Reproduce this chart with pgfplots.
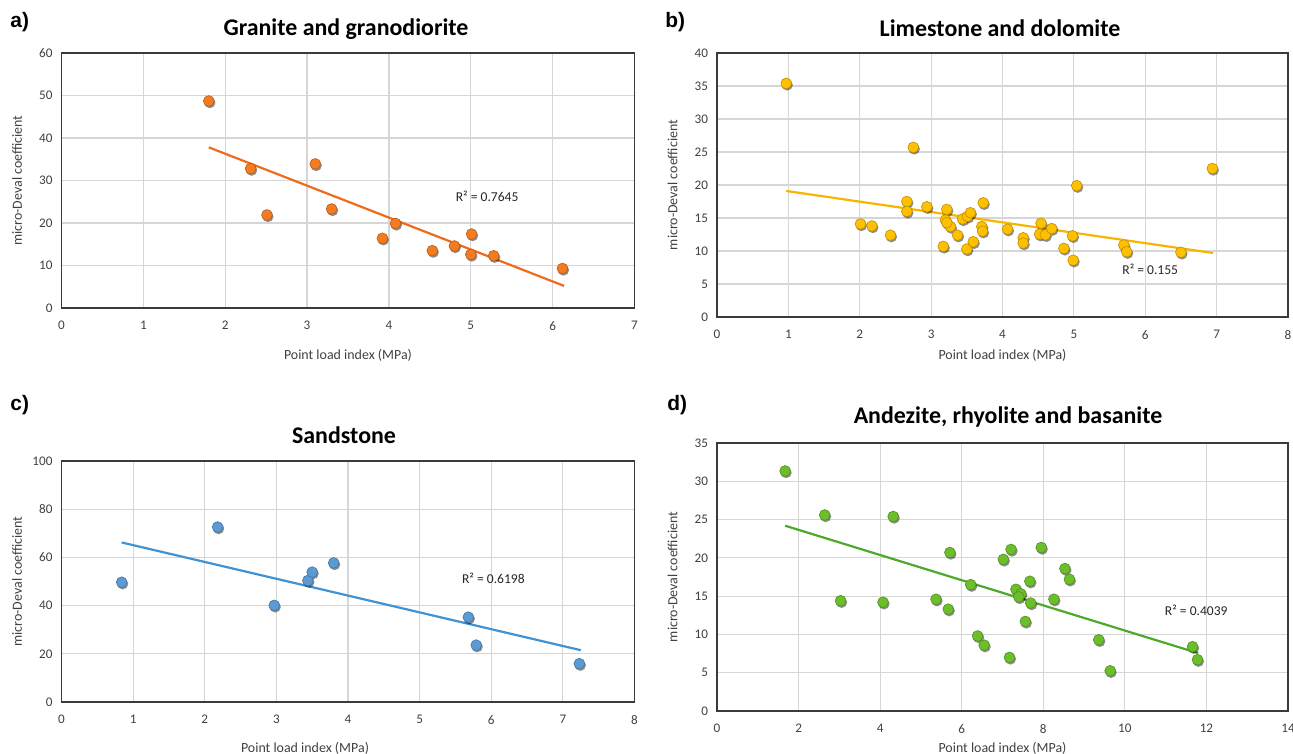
\documentclass[border=0pt]{standalone}
\usepackage{pgfplots}
\pgfplotsset{compat=1.18}
\usepackage{fontspec}
\setmainfont{Carlito}
\newfontfamily\panelfont{Liberation Sans}

\definecolor{axisc}{HTML}{3A3A3A}
\definecolor{gridc}{HTML}{D6D6D6}
\definecolor{tickc}{HTML}{404040}
\definecolor{orgfill}{HTML}{F47B20}
\definecolor{orgline}{HTML}{EE6A1C}
\definecolor{golfill}{HTML}{FFC000}
\definecolor{golline}{HTML}{F7B500}
\definecolor{blufill}{HTML}{5B9BD5}
\definecolor{bluline}{HTML}{3F93D3}
\definecolor{grnfill}{HTML}{6CBF2A}
\definecolor{grnline}{HTML}{4EA82A}

\pgfplotstableread{
x y
1.80 48.7
2.31 32.8
2.51 21.9
3.10 33.9
3.30 23.3
3.92 16.4
4.08 19.9
4.53 13.5
4.80 14.6
5.01 17.4
5.00 12.6
5.28 12.3
6.12 9.3
}\dataA
\pgfplotstableread{
x y
0.97 35.4
2.75 25.7
6.94 22.5
5.04 19.9
3.73 17.3
2.66 17.5
2.66 16.0
2.94 16.7
2.01 14.1
2.17 13.8
2.43 12.4
3.22 16.3
3.20 14.7
3.27 13.7
3.22 14.3
3.37 12.4
3.17 10.7
3.50 10.3
3.59 11.4
3.44 14.85
3.51 15.25
3.55 15.8
3.71 13.7
3.72 13.0
4.07 13.3
4.29 12.0
4.29 11.2
4.54 14.2
4.52 12.55
4.60 12.45
4.69 13.4
4.86 10.4
4.98 12.3
4.99 8.6
5.70 10.9
5.74 9.9
6.50 9.8
}\dataB
\pgfplotstableread{
x y
0.84 49.7
2.18 72.6
2.97 40.1
3.44 50.4
3.50 53.9
3.80 57.7
5.68 35.2
5.79 23.6
7.23 15.9
}\dataC
\pgfplotstableread{
x y
1.67 31.35
2.64 25.6
4.32 25.4
3.03 14.4
4.07 14.2
5.37 14.6
5.67 13.3
5.71 20.7
6.22 16.5
6.39 9.8
6.55 8.6
7.02 19.8
7.21 21.1
7.17 7.0
7.33 15.9
7.45 15.3
7.40 14.9
7.67 16.95
7.69 14.1
7.56 11.7
7.95 21.35
8.26 14.6
8.53 18.6
8.64 17.2
9.36 9.3
9.64 5.25
11.66 8.4
11.78 6.7
}\dataD

\tikzset{rsq/.style={font=\fontsize{6.8}{7.5}\selectfont, text=black!85}}

\pgfplotsset{
  panel/.style={
    scale only axis, anchor=south west,
    enlargelimits=false,
    axis line style={draw=axisc, line width=0.8bp},
    grid=major,
    major grid style={draw=gridc, line width=0.6bp},
    tick style={draw=none},
    ticklabel style={font=\fontsize{6.6}{7.5}\selectfont, text=tickc},
    xticklabel style={yshift=-3.2bp},
    yticklabel style={xshift=-1bp},
    /pgf/number format/assume math mode=true,
    xlabel={Point load index (MPa)},
    ylabel={micro-Deval coefficient},
    every axis x label/.append style={font=\fontsize{7}{8}\selectfont, text=tickc},
    every axis y label/.style={at={(axis description cs:-0.0777,0.5)}, rotate=90, anchor=center,
      font=\fontsize{7}{8}\selectfont, text=tickc},
  },
  shadow/.style={only marks, mark=*, mark size=2.8bp, draw=none,
    mark options={fill=black, fill opacity=0.45, draw opacity=0, xshift=0.5bp, yshift=-0.8bp}},
  dots/.style={only marks, mark=*, mark size=2.7bp, mark options={fill=#1, draw=#1!75!black, line width=0.3bp}},
  trend/.style={no marks, draw=#1, line width=1.1bp},
}

\begin{document}
\begin{tikzpicture}
\useasboundingbox (0,0) rectangle (646.5bp,-377bp);

% titles and panel letters
\node[font=\bfseries\fontsize{12}{14}\selectfont] at (173bp,-14.5bp) {Granite and granodiorite};
\node[font=\bfseries\fontsize{12}{14}\selectfont] at (500bp,-14bp) {Limestone and dolomite};
\node[font=\bfseries\fontsize{12}{14}\selectfont] at (172bp,-217.5bp) {Sandstone};
\node[font=\bfseries\fontsize{12}{14}\selectfont] at (504bp,-208.5bp) {Andezite, rhyolite and basanite};
\node[anchor=west, inner sep=0pt, font=\panelfont\bfseries\fontsize{10.5}{12}\selectfont] at (5bp,-11bp) {a)};
\node[anchor=west, inner sep=0pt, font=\panelfont\bfseries\fontsize{10.5}{12}\selectfont] at (332.5bp,-11bp) {b)};
\node[anchor=west, inner sep=0pt, font=\panelfont\bfseries\fontsize{10.5}{12}\selectfont] at (5bp,-202.5bp) {c)};
\node[anchor=west, inner sep=0pt, font=\panelfont\bfseries\fontsize{10.5}{12}\selectfont] at (333.5bp,-202.5bp) {d)};

% a
\begin{axis}[panel, at={(30.75bp,-154bp)}, width=286.5bp, height=127.5bp,
  xmin=0, xmax=7, ymin=0, ymax=60, xtick={0,...,7}, ytick={0,10,...,60},
  xlabel style={at={(axis description cs:0.5,-0.184)}, anchor=center}]
\addplot[shadow] table[x=x,y=y] {\dataA};
\addplot[dots=orgfill] table[x=x,y=y] {\dataA};
\addplot[trend=orgline] coordinates {(1.80,37.8) (6.14,5.2)};
\node[rsq] at (axis cs:5.2,26.2) {R² = 0.7645};
\end{axis}

% b
\begin{axis}[panel, at={(358.5bp,-158.5bp)}, width=285.5bp, height=132bp,
  xmin=0, xmax=8, ymin=0, ymax=40, xtick={0,...,8}, ytick={0,5,...,40},
  xlabel style={at={(axis description cs:0.5,-0.144)}, anchor=center}]
\addplot[shadow] table[x=x,y=y] {\dataB};
\addplot[dots=golfill] table[x=x,y=y] {\dataB};
\addplot[trend=golline] coordinates {(0.97,19.1) (6.95,9.7)};
\node[rsq] at (axis cs:6.07,7.3) {R² = 0.155};
\end{axis}

% c
\begin{axis}[panel, at={(30.75bp,-351bp)}, width=286.5bp, height=120.5bp,
  xmin=0, xmax=8, ymin=0, ymax=100, xtick={0,...,8}, ytick={0,20,...,100},
  xlabel style={at={(axis description cs:0.425,-0.191)}, anchor=center}]
\addplot[shadow] table[x=x,y=y] {\dataC};
\addplot[dots=blufill] table[x=x,y=y] {\dataC};
\addplot[trend=bluline] coordinates {(0.84,66.2) (7.25,21.5)};
\node[rsq] at (axis cs:6.03,51.4) {R² = 0.6198};
\end{axis}

% d
\begin{axis}[panel, at={(358.5bp,-355.5bp)}, width=285.5bp, height=134bp,
  xmin=0, xmax=14, ymin=0, ymax=35, xtick={0,2,...,14}, ytick={0,5,...,35},
  xlabel style={at={(axis description cs:0.5,-0.138)}, anchor=center}]
\addplot[shadow] table[x=x,y=y] {\dataD};
\addplot[dots=grnfill] table[x=x,y=y] {\dataD};
\addplot[trend=grnline] coordinates {(1.67,24.2) (11.8,7.55)};
\node[rsq] at (axis cs:11.75,13.1) {R² = 0.4039};
\end{axis}
\end{tikzpicture}
\end{document}
